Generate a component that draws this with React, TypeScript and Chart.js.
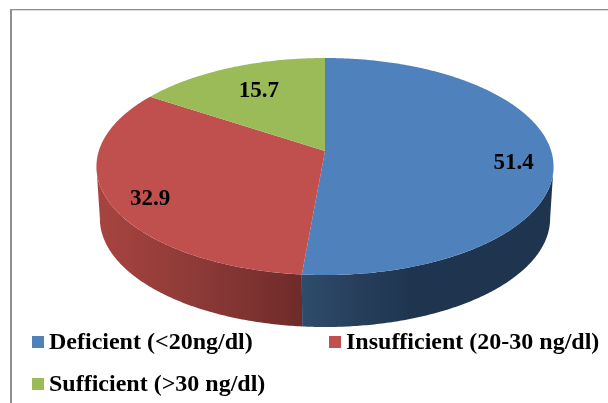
import React, { useEffect, useRef } from "react";
import { Chart, registerables } from "chart.js";

Chart.register(...registerables);

// Vitamin D status shares, in percent.
const categories = ["Deficient (<20ng/dl)", "Insufficient (20-30 ng/dl)", "Sufficient (>30 ng/dl)"];
const shares = [51.4, 32.9, 15.7];
const shareLabels = ["51.4", "32.9", "15.7"];
const topColors = ["#4F81BD", "#C0504D", "#9BBB59"];
const sideShades = [
  ["#2E4C6B", "#273F5C", "#1F354F"],
  ["#A8443F", "#8C3A38", "#6E2B29"],
  ["#7C9647", "#7C9647", "#7C9647"],
];

// Tilted-disc projection of the pie plane.
const PERSPECTIVE = 1 / 7;
const HALF_WIDTH = 226.2;
const HALF_HEIGHT = 106.3;
const DEPTH = 52;
const FLOOR_SCALE = 0.985;
const SERIF = "'Liberation Serif', 'Times New Roman', serif";

// Angles where the disc's outline turns from back to front.
const FOLD = Math.asin(PERSPECTIVE);

// Where each value label sits: fraction of the radius along the slice's mid angle, plus a nudge.
const labelFit = [
  { r: 0.83, dy: 8 },
  { r: 0.815, dy: 8 },
  { r: 0.67, dy: -2 },
];

// Legend rows: swatch left edge, row centre.
const legendSlots = [
  { x: 32, y: 342 },
  { x: 329, y: 342 },
  { x: 32, y: 384 },
];

function project(cx: number, cy: number, ang: number, r = 1) {
  const u = Math.cos(ang) * r;
  const v = Math.sin(ang) * r;
  const d = 1 - PERSPECTIVE * v;
  return { x: cx + (HALF_WIDTH * u) / d, y: cy + (HALF_HEIGHT * v) / d };
}

const framePlugin = {
  id: "frame",
  beforeDraw(chart: any) {
    const { ctx, width, height } = chart;
    ctx.save();
    ctx.fillStyle = "#FFFFFF";
    ctx.fillRect(0, 0, width, height);
    ctx.fillStyle = "#8F8F8F";
    ctx.fillRect(10, 9, 2, height - 9);
    ctx.fillRect(10, 9, width - 10, 1.3);
    ctx.restore();
  },
};

const pie3dPlugin = {
  id: "pie3d",
  beforeDatasetsDraw(chart: any) {
    const { ctx } = chart;
    const arcs = chart.getDatasetMeta(0).data;

    const rim = (a: any, from: number, to: number, floor: boolean) => {
      const steps = Math.max(8, Math.ceil(Math.abs(to - from) / 0.01));
      const out = [];
      for (let i = 0; i <= steps; i++) {
        const p = project(a.x, a.y, from + ((to - from) * i) / steps);
        out.push(floor ? { x: a.x + (p.x - a.x) * FLOOR_SCALE, y: p.y + DEPTH } : p);
      }
      return out;
    };

    // Side walls exist only on the front stretch of the outline.
    arcs.forEach((a: any, i: number) => {
      const from = Math.max(a.startAngle, FOLD);
      const to = Math.min(a.endAngle, Math.PI - FOLD);
      if (to <= from) return;
      const upper = rim(a, from, to, false);
      const lower = rim(a, from, to, true).reverse();
      const xs = upper.map((p: any) => p.x);
      const x0 = Math.min(...xs);
      // Blue wall reaches its darkest tone well before the right edge.
      const x1 = i === 0 ? x0 + 110 : Math.max(...xs);
      const g = ctx.createLinearGradient(x0, 0, x1, 0);
      const shades = sideShades[i];
      g.addColorStop(0, shades[0]);
      g.addColorStop(0.5, shades[1]);
      g.addColorStop(1, shades[2]);
      ctx.beginPath();
      [...upper, ...lower].forEach((p: any, k: number) => (k ? ctx.lineTo(p.x, p.y) : ctx.moveTo(p.x, p.y)));
      ctx.closePath();
      ctx.fillStyle = g;
      ctx.fill();
    });

    arcs.forEach((a: any, i: number) => {
      ctx.beginPath();
      ctx.moveTo(a.x, a.y);
      rim(a, a.startAngle, a.endAngle, false).forEach((p: any) => ctx.lineTo(p.x, p.y));
      ctx.closePath();
      ctx.fillStyle = topColors[i];
      ctx.fill();
    });

    // Flat arcs are replaced by the projected ones above.
    return false;
  },
  afterDraw(chart: any) {
    const { ctx } = chart;
    const arcs = chart.getDatasetMeta(0).data;
    ctx.save();
    ctx.fillStyle = "#000000";
    ctx.textBaseline = "middle";

    ctx.textAlign = "center";
    ctx.font = `bold 23px ${SERIF}`;
    arcs.forEach((a: any, i: number) => {
      const mid = (a.startAngle + a.endAngle) / 2;
      const p = project(a.x, a.y, mid, labelFit[i].r);
      ctx.fillText(shareLabels[i], p.x, p.y + labelFit[i].dy);
    });

    ctx.textAlign = "left";
    ctx.font = `bold 24px ${SERIF}`;
    categories.forEach((name, i) => {
      const slot = legendSlots[i];
      ctx.fillStyle = topColors[i];
      ctx.fillRect(slot.x, slot.y - 6, 12, 12);
      ctx.fillStyle = "#000000";
      ctx.fillText(name, slot.x + 17, slot.y + 1);
    });
    ctx.restore();
  },
};

export default function App() {
  const ref = useRef<HTMLCanvasElement>(null);
  useEffect(() => {
    const chart = new Chart(ref.current as HTMLCanvasElement, {
      type: "pie",
      data: {
        labels: categories,
        datasets: [{ data: shares, backgroundColor: topColors, borderWidth: 0 }],
      },
      options: {
        responsive: false,
        animation: false,
        layout: { padding: { left: 232, right: 190, top: 58, bottom: 159 } },
        plugins: { legend: { display: false }, tooltip: { enabled: false } },
      },
      plugins: [framePlugin, pie3dPlugin],
    } as any);
    return () => chart.destroy();
  }, []);
  return (
    <div style={{ position: "absolute", left: 0, top: 0, width: 608, height: 403, overflow: "hidden" }}>
      <canvas ref={ref} width={608} height={403} style={{ display: "block" }} />
    </div>
  );
}
